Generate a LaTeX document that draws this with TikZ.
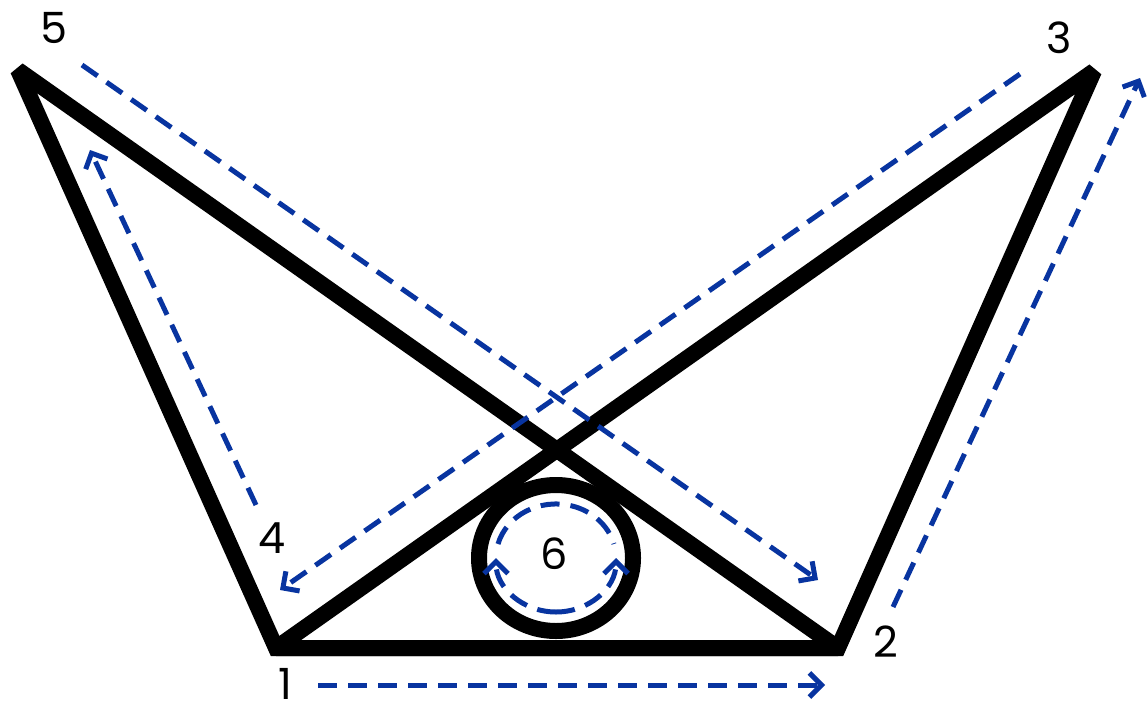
\documentclass[tikz,border=0pt]{standalone}
\usepackage{fontspec}
\setmainfont{Poppins}
\usepackage{xcolor}
\usetikzlibrary{arrows.meta}
\definecolor{flowblue}{RGB}{8,52,160}
\tikzset{
  beam/.style={line width=16pt,line join=miter,miter limit=2},
  flow/.style={draw=flowblue,line width=5pt,dash pattern=on 19pt off 11pt,
    -{Straight Barb[length=12pt,width=24pt]}},
  tag/.style={inner sep=0pt,font=\fontsize{43}{48}\selectfont},
}

\begin{document}
\begin{tikzpicture}[x=1pt,y=-1pt]
    \useasboundingbox[fill=white] (0,0) rectangle (1147,701);
    \coordinate (p1) at (276,648);
    \coordinate (p2) at (838,648);
    \coordinate (p3) at (1094,71);
    \coordinate (p5) at (18,70);
    \coordinate (wheel) at (556,558);
    \draw[beam] (p1) -- (p5) -- (p2) -- cycle;
    \draw[beam] (p1) -- (p2) -- (p3) -- cycle;
    \draw[beam] (wheel) ellipse[x radius=77,y radius=73];
    \node[tag] (l1) at (285,684) {1};
    \node[tag] (l2) at (886,642) {2};
    \node[tag] (l3) at (1059,38) {3};
    \node[tag] (l4) at (272,538) {4};
    \node[tag] (l5) at (54,28) {5};
    \node[tag] (l6) at (554,554) {6};
    \coordinate (a1s) at (318,685);
    \coordinate (a1e) at (825,685);
    \coordinate (a2s) at (893,607);
    \coordinate (a2e) at (1140,78);
    \coordinate (a3s) at (1020,74);
    \coordinate (a3e) at (280,590);
    \coordinate (a4s) at (256,505);
    \coordinate (a4e) at (90,150);
    \coordinate (a5s) at (82,65);
    \coordinate (a5e) at (818,580);
    \draw[flow] (a1s) -- (a1e);
    \draw[flow] (a2s) -- (a2e);
    \draw[flow] (a3s) -- (a3e);
    \draw[flow] (a4s) -- (a4e);
    \draw[flow] (a5s) -- (a5e);
    \draw[flow] (wheel) ++(0,54) arc[start angle=90,end angle=180,x radius=60,y radius=54];
    \draw[flow] (wheel) ++(0,54) arc[start angle=90,end angle=0,x radius=60,y radius=54];
    \draw[flow,-] (wheel) ++(-58,-14) arc[start angle=195,end angle=345,x radius=60,y radius=54];
  \end{tikzpicture}
\end{document}
